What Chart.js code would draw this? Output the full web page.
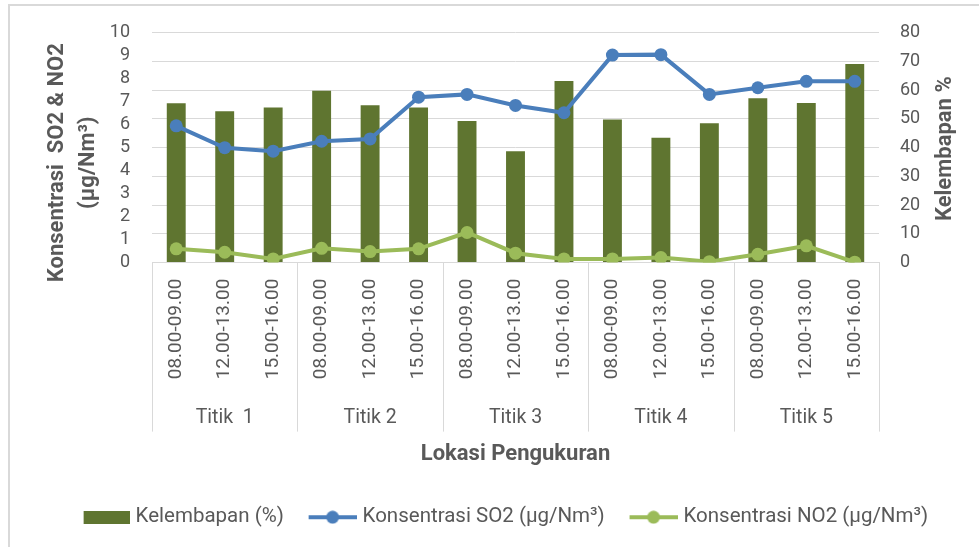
<!DOCTYPE html>
<html>
<head>
<meta charset="utf-8">
<script src="https://cdn.jsdelivr.net/npm/chart.js@4"></script>
<style>
  body { margin: 0; background: #fff; }
  .frame { position: absolute; left: 8px; top: 4px; width: 1000px; height: 600px;
           border-top: 2px solid #d9d9d9; border-left: 2px solid #d9d9d9; }
  #wrap { position: absolute; left: 0; top: 0; width: 979px; height: 547px; }
</style>
</head>
<body>
<div class="frame"></div>
<div id="wrap"><canvas id="chart"></canvas></div>
<script>
console.log('chart start');

// data
var times = ['08.00-09.00', '12.00-13.00', '15.00-16.00'];
var groups = ['Titik  1', 'Titik 2', 'Titik 3', 'Titik 4', 'Titik 5'];
var kelembapan = [55.5, 52.7, 54, 59.8, 54.8, 54, 49.3, 38.8, 63.2, 49.8, 43.5, 48.5, 57.2, 55.6, 69.1];
var so2 = [5.95, 5.0, 4.85, 5.28, 5.38, 7.2, 7.32, 6.84, 6.52, 9.03, 9.05, 7.32, 7.61, 7.89, 7.89];
var no2 = [0.6, 0.45, 0.16, 0.62, 0.48, 0.6, 1.31, 0.41, 0.16, 0.16, 0.22, 0.04, 0.36, 0.73, 0.02];
var leftTicks = [0, 10, 1];
var rightTicks = [0, 80, 10];
var leftTitle = ['Konsentrasi  SO2 & NO2', '(\u00b5g/Nm\u00b3)'];
var rightTitle = 'Kelembapan %';

var labels = [];
groups.forEach(function(g) {
  times.forEach(function(t) { labels.push(t); });
});

var green = '#5f7530';
var blue = '#4a7ebb';
var lightGreen = '#9bbb59';
var txt = '#595959';
var gridCol = '#d9d9d9';
var fam = 'Roboto';

// legend swatches, with empty room on the left so the gap before the text stays small
function barSwatch(color) {
  var c = document.createElement('canvas');
  c.width = 67; c.height = 13;
  var x = c.getContext('2d');
  x.fillStyle = color;
  x.fillRect(21, 0, 46, 13);
  return c;
}
function lineSwatch(color) {
  var c = document.createElement('canvas');
  c.width = 67; c.height = 14;
  var x = c.getContext('2d');
  x.strokeStyle = color;
  x.lineWidth = 4;
  x.beginPath(); x.moveTo(19, 7); x.lineTo(67, 7); x.stroke();
  x.fillStyle = color;
  x.beginPath(); x.arc(43, 7, 6.5, 0, Math.PI * 2); x.fill();
  return c;
}
var swatches = [barSwatch(green), lineSwatch(blue), lineSwatch(lightGreen)];

// separators between the Titik groups + both y axis titles
var extras = {
  id: 'extras',
  afterDraw: function(chart) {
    var ctx = chart.ctx;
    var a = chart.chartArea;
    var x2 = chart.scales.x2;
    var w = (a.right - a.left) / groups.length;
    ctx.save();
    ctx.strokeStyle = gridCol;
    ctx.lineWidth = 1;
    for (var k = 0; k <= groups.length; k++) {
      var px = Math.round(a.left + k * w) + 0.5;
      ctx.beginPath();
      ctx.moveTo(px, a.bottom);
      ctx.lineTo(px, x2.top + 38);
      ctx.stroke();
    }
    ctx.restore();

    ctx.save();
    ctx.fillStyle = txt;
    ctx.font = 'bold 22px ' + fam;
    ctx.textAlign = 'center';
    ctx.textBaseline = 'middle';
    var cy = (a.top + a.bottom) / 2;
    ctx.save();
    ctx.translate(57, cy + 15);
    ctx.rotate(-Math.PI / 2);
    ctx.fillText(leftTitle[0], 0, 0);
    ctx.fillText(leftTitle[1], 0, 31);
    ctx.restore();
    var y1 = chart.scales.y1;
    ctx.translate(y1.right - 34, cy + 1);
    ctx.rotate(-Math.PI / 2);
    ctx.fillText(rightTitle, 0, 0);
    ctx.restore();
  }
};

var chart = new Chart(document.getElementById('chart'), {
  type: 'bar',
  data: {
    labels: labels,
    datasets: [
      {
        label: 'Kelembapan (%)',
        data: kelembapan,
        backgroundColor: green,
        yAxisID: 'y1',
        categoryPercentage: 1,
        barPercentage: 0.39,
        order: 3
      },
      {
        type: 'line',
        label: 'Konsentrasi SO2 (\u00b5g/Nm\u00b3)',
        data: so2,
        borderColor: blue,
        backgroundColor: blue,
        borderWidth: 4,
        pointRadius: 6.5,
        pointBorderWidth: 0,
        tension: 0,
        yAxisID: 'y',
        order: 2
      },
      {
        type: 'line',
        label: 'Konsentrasi NO2 (\u00b5g/Nm\u00b3)',
        data: no2,
        borderColor: lightGreen,
        backgroundColor: lightGreen,
        borderWidth: 4,
        pointRadius: 6.5,
        pointBorderWidth: 0,
        tension: 0,
        yAxisID: 'y',
        order: 1
      }
    ]
  },
  options: {
    responsive: true,
    maintainAspectRatio: false,
    animation: false,
    layout: { padding: { left: 16, right: 0, top: 32, bottom: 9.5 } },
    plugins: {
      tooltip: { enabled: false },
      legend: {
        position: 'bottom',
        labels: {
          usePointStyle: true,
          pointStyleWidth: 58.5,
          padding: 10,
          color: txt,
          font: { family: fam, size: 20.5 },
          generateLabels: function(chart) {
            return chart.data.datasets.map(function(ds, i) {
              return {
                text: ds.label,
                pointStyle: swatches[i],
                fillStyle: 'rgba(0,0,0,0)',
                strokeStyle: 'rgba(0,0,0,0)',
                lineWidth: 0,
                hidden: false,
                datasetIndex: i,
                fontColor: txt
              };
            });
          }
        }
      }
    },
    scales: {
      x: {
        position: 'bottom',
        grid: { drawOnChartArea: false, drawTicks: false },
        border: { color: gridCol },
        ticks: {
          color: txt,
          font: { family: fam, size: 19 },
          minRotation: 90,
          maxRotation: 90,
          padding: 16,
          autoSkip: false
        },
        afterFit: function(s) { s.height = 131; }
      },
      x2: {
        type: 'category',
        position: 'bottom',
        labels: groups,
        offset: true,
        grid: { display: false, drawTicks: false },
        border: { display: false },
        ticks: { color: txt, font: { family: fam, size: 19.5 }, padding: 13 },
        title: {
          display: true,
          text: 'Lokasi Pengukuran',
          color: txt,
          font: { family: fam, size: 22, weight: 'bold', lineHeight: 1 },
          padding: { top: 0, bottom: 32 }
        }
      },
      y: {
        position: 'left',
        min: leftTicks[0],
        max: leftTicks[1],
        ticks: { stepSize: leftTicks[2], autoSkip: false, color: txt, font: { family: fam, size: 18 }, padding: 22 },
        grid: { display: false, drawTicks: false },
        border: { display: false },
        afterFit: function(s) { s.width = 136; }
      },
      y1: {
        position: 'right',
        min: rightTicks[0],
        max: rightTicks[1],
        ticks: { stepSize: rightTicks[2], autoSkip: false, color: txt, font: { family: fam, size: 18 }, padding: 21 },
        grid: { color: gridCol, drawTicks: false },
        border: { display: false },
        afterFit: function(s) { s.width = 100; }
      }
    }
  },
  plugins: [extras]
});
</script>
</body>
</html>
